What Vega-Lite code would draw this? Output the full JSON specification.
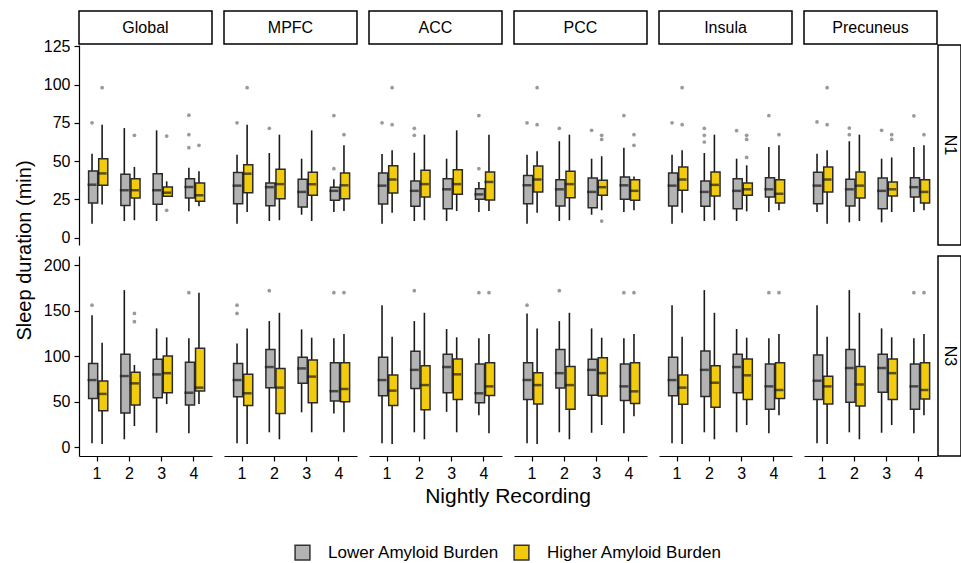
{
  "$schema": "https://vega.github.io/schema/vega-lite/v6.json",
  "padding": {"left": 14, "top": 10, "right": 0, "bottom": 0},
  "config": {
    "font": "Liberation Sans",
    "view": {"stroke": null},
    "axis": {"grid": false, "domainColor": "#000", "tickColor": "#000", "labelColor": "#000", "labelFontSize": 16, "tickSize": 5, "labelPadding": 4, "domainWidth": 1.2, "tickWidth": 1.2, "titleFontWeight": "normal", "titleFontSize": 20, "titleColor": "#000", "labelOverlap": false},
    "legend": {"labelFontSize": 17, "labelColor": "#000", "labelLimit": 400, "symbolType": "square", "symbolSize": 220, "symbolStrokeColor": "#333", "symbolStrokeWidth": 1.5, "columnPadding": 11, "labelOffset": 17}
  },
  "datasets": {
    "ytitle": [{"label": "Sleep duration (min)"}],
    "regions": [{"region": "Global"}, {"region": "MPFC"}, {"region": "ACC"}, {"region": "PCC"}, {"region": "Insula"}, {"region": "Precuneus"}],
    "s1": [{"stage": "N1"}],
    "s3": [{"stage": "N3"}],
    "d": [
      {"stage":"N1","region":"Global","night":1,"group":"Lower Amyloid Burden","lower":9.1,"q1":22.7,"median":34.6,"q3":43.6,"upper":54.9},
      {"stage":"N1","region":"Global","night":1,"group":"Higher Amyloid Burden","lower":21.6,"q1":34.2,"median":42,"q3":51.6,"upper":73.8},
      {"stage":"N1","region":"Global","night":2,"group":"Lower Amyloid Burden","lower":10.9,"q1":21.1,"median":31,"q3":41.4,"upper":71.6},
      {"stage":"N1","region":"Global","night":2,"group":"Higher Amyloid Burden","lower":11.4,"q1":25.9,"median":31,"q3":38.5,"upper":46.2},
      {"stage":"N1","region":"Global","night":3,"group":"Lower Amyloid Burden","lower":10.9,"q1":21.8,"median":31,"q3":41.8,"upper":70.1},
      {"stage":"N1","region":"Global","night":3,"group":"Higher Amyloid Burden","lower":27,"q1":27,"median":29.4,"q3":33.1,"upper":36.8},
      {"stage":"N1","region":"Global","night":4,"group":"Lower Amyloid Burden","lower":17.2,"q1":25.9,"median":33.1,"q3":38.5,"upper":45.7},
      {"stage":"N1","region":"Global","night":4,"group":"Higher Amyloid Burden","lower":20.5,"q1":23.8,"median":27.7,"q3":35.7,"upper":43.4},
      {"stage":"N1","region":"MPFC","night":1,"group":"Lower Amyloid Burden","lower":9.1,"q1":22.2,"median":34,"q3":42.5,"upper":54.2},
      {"stage":"N1","region":"MPFC","night":1,"group":"Higher Amyloid Burden","lower":16.8,"q1":29.4,"median":41.8,"q3":47.7,"upper":73.8},
      {"stage":"N1","region":"MPFC","night":2,"group":"Lower Amyloid Burden","lower":10.9,"q1":20.9,"median":33,"q3":35.7,"upper":55.3},
      {"stage":"N1","region":"MPFC","night":2,"group":"Higher Amyloid Burden","lower":11.4,"q1":25.5,"median":35,"q3":44.7,"upper":67.3},
      {"stage":"N1","region":"MPFC","night":3,"group":"Lower Amyloid Burden","lower":15,"q1":20,"median":29.9,"q3":38.1,"upper":51.6},
      {"stage":"N1","region":"MPFC","night":3,"group":"Higher Amyloid Burden","lower":10.9,"q1":27.7,"median":34.9,"q3":42.7,"upper":70.1},
      {"stage":"N1","region":"MPFC","night":4,"group":"Lower Amyloid Burden","lower":16.8,"q1":24.4,"median":30.6,"q3":32.9,"upper":38.1},
      {"stage":"N1","region":"MPFC","night":4,"group":"Higher Amyloid Burden","lower":17.4,"q1":25.5,"median":34.2,"q3":42.3,"upper":60.3},
      {"stage":"N1","region":"ACC","night":1,"group":"Lower Amyloid Burden","lower":9.1,"q1":22,"median":34,"q3":42.3,"upper":54.7},
      {"stage":"N1","region":"ACC","night":1,"group":"Higher Amyloid Burden","lower":16.3,"q1":29.2,"median":38,"q3":47,"upper":57.1},
      {"stage":"N1","region":"ACC","night":2,"group":"Lower Amyloid Burden","lower":10.9,"q1":20.5,"median":30.6,"q3":37,"upper":55.5},
      {"stage":"N1","region":"ACC","night":2,"group":"Higher Amyloid Burden","lower":11.4,"q1":26.6,"median":35,"q3":44,"upper":67.3},
      {"stage":"N1","region":"ACC","night":3,"group":"Lower Amyloid Burden","lower":10.9,"q1":18.9,"median":31.6,"q3":38.5,"upper":51.6},
      {"stage":"N1","region":"ACC","night":3,"group":"Higher Amyloid Burden","lower":17.4,"q1":28.3,"median":35,"q3":44.4,"upper":70.1},
      {"stage":"N1","region":"ACC","night":4,"group":"Lower Amyloid Burden","lower":16.8,"q1":25.1,"median":28.3,"q3":32,"upper":36.4},
      {"stage":"N1","region":"ACC","night":4,"group":"Higher Amyloid Burden","lower":17.4,"q1":24.6,"median":36.4,"q3":42.9,"upper":67.3},
      {"stage":"N1","region":"PCC","night":1,"group":"Lower Amyloid Burden","lower":9.1,"q1":22.2,"median":34.2,"q3":40.7,"upper":54.2},
      {"stage":"N1","region":"PCC","night":1,"group":"Higher Amyloid Burden","lower":16.3,"q1":29.9,"median":38,"q3":46.8,"upper":56.4},
      {"stage":"N1","region":"PCC","night":2,"group":"Lower Amyloid Burden","lower":10.9,"q1":20.7,"median":31.6,"q3":37.9,"upper":63},
      {"stage":"N1","region":"PCC","night":2,"group":"Higher Amyloid Burden","lower":11.4,"q1":26.1,"median":35,"q3":43.4,"upper":67.3},
      {"stage":"N1","region":"PCC","night":3,"group":"Lower Amyloid Burden","lower":15,"q1":19.6,"median":29.9,"q3":39,"upper":51.6},
      {"stage":"N1","region":"PCC","night":3,"group":"Higher Amyloid Burden","lower":17.9,"q1":27.7,"median":33,"q3":37.5,"upper":53.2},
      {"stage":"N1","region":"PCC","night":4,"group":"Lower Amyloid Burden","lower":16.8,"q1":25.1,"median":34.2,"q3":39.6,"upper":58.8},
      {"stage":"N1","region":"PCC","night":4,"group":"Higher Amyloid Burden","lower":17.9,"q1":24.4,"median":30.6,"q3":37.9,"upper":40},
      {"stage":"N1","region":"Insula","night":1,"group":"Lower Amyloid Burden","lower":9.1,"q1":20.7,"median":34,"q3":42.3,"upper":54.2},
      {"stage":"N1","region":"Insula","night":1,"group":"Higher Amyloid Burden","lower":16.3,"q1":31,"median":38,"q3":46.2,"upper":57.1},
      {"stage":"N1","region":"Insula","night":2,"group":"Lower Amyloid Burden","lower":10.9,"q1":20.5,"median":29.9,"q3":37,"upper":55.3},
      {"stage":"N1","region":"Insula","night":2,"group":"Higher Amyloid Burden","lower":11.4,"q1":27.2,"median":34.5,"q3":42.9,"upper":67.3},
      {"stage":"N1","region":"Insula","night":3,"group":"Lower Amyloid Burden","lower":10.9,"q1":18.9,"median":30.6,"q3":38.5,"upper":51.6},
      {"stage":"N1","region":"Insula","night":3,"group":"Higher Amyloid Burden","lower":17.2,"q1":27.7,"median":31.6,"q3":35.7,"upper":47.3},
      {"stage":"N1","region":"Insula","night":4,"group":"Lower Amyloid Burden","lower":16.8,"q1":26.6,"median":31.6,"q3":39.2,"upper":59.2},
      {"stage":"N1","region":"Insula","night":4,"group":"Higher Amyloid Burden","lower":17.9,"q1":22.7,"median":28.7,"q3":37.9,"upper":60.3},
      {"stage":"N1","region":"Precuneus","night":1,"group":"Lower Amyloid Burden","lower":16.8,"q1":22.2,"median":34,"q3":42.7,"upper":54.9},
      {"stage":"N1","region":"Precuneus","night":1,"group":"Higher Amyloid Burden","lower":9.1,"q1":29.9,"median":38,"q3":46.2,"upper":57.1},
      {"stage":"N1","region":"Precuneus","night":2,"group":"Lower Amyloid Burden","lower":10,"q1":20.7,"median":31.6,"q3":38.1,"upper":63},
      {"stage":"N1","region":"Precuneus","night":2,"group":"Higher Amyloid Burden","lower":10.9,"q1":25.9,"median":34,"q3":42.9,"upper":67.3},
      {"stage":"N1","region":"Precuneus","night":3,"group":"Lower Amyloid Burden","lower":10,"q1":18.9,"median":30.6,"q3":39,"upper":51.6},
      {"stage":"N1","region":"Precuneus","night":3,"group":"Higher Amyloid Burden","lower":16.8,"q1":27.2,"median":31.6,"q3":36.4,"upper":52.4},
      {"stage":"N1","region":"Precuneus","night":4,"group":"Lower Amyloid Burden","lower":16.8,"q1":26.6,"median":33,"q3":39.2,"upper":59.2},
      {"stage":"N1","region":"Precuneus","night":4,"group":"Higher Amyloid Burden","lower":17.9,"q1":22.7,"median":29.9,"q3":37.9,"upper":60.3},

      {"stage":"N3","region":"Global","night":1,"group":"Lower Amyloid Burden","lower":4.4,"q1":53.7,"median":73.8,"q3":92.1,"upper":145},
      {"stage":"N3","region":"Global","night":1,"group":"Higher Amyloid Burden","lower":3.7,"q1":40.1,"median":58.6,"q3":72.7,"upper":114.7},
      {"stage":"N3","region":"Global","night":2,"group":"Lower Amyloid Burden","lower":8.8,"q1":37.6,"median":78.2,"q3":102,"upper":172.5},
      {"stage":"N3","region":"Global","night":2,"group":"Higher Amyloid Burden","lower":23.4,"q1":46.5,"median":70.2,"q3":82.3,"upper":90.3},
      {"stage":"N3","region":"Global","night":3,"group":"Lower Amyloid Burden","lower":16,"q1":54.5,"median":80,"q3":96.6,"upper":130.5},
      {"stage":"N3","region":"Global","night":3,"group":"Higher Amyloid Burden","lower":47.5,"q1":59.9,"median":81.4,"q3":100.1,"upper":120.7},
      {"stage":"N3","region":"Global","night":4,"group":"Lower Amyloid Burden","lower":15.4,"q1":46.4,"median":59.9,"q3":93.3,"upper":119.6},
      {"stage":"N3","region":"Global","night":4,"group":"Higher Amyloid Burden","lower":47.5,"q1":61.7,"median":65.5,"q3":108.6,"upper":169.6},
      {"stage":"N3","region":"MPFC","night":1,"group":"Lower Amyloid Burden","lower":4.4,"q1":55.5,"median":73.8,"q3":92.1,"upper":114},
      {"stage":"N3","region":"MPFC","night":1,"group":"Higher Amyloid Burden","lower":3.7,"q1":46,"median":59.3,"q3":80.1,"upper":130.5},
      {"stage":"N3","region":"MPFC","night":2,"group":"Lower Amyloid Burden","lower":16.5,"q1":65.5,"median":88.1,"q3":107.4,"upper":138.5},
      {"stage":"N3","region":"MPFC","night":2,"group":"Higher Amyloid Burden","lower":8.8,"q1":37.1,"median":65.5,"q3":86.6,"upper":147.6},
      {"stage":"N3","region":"MPFC","night":3,"group":"Lower Amyloid Burden","lower":38.4,"q1":70.2,"median":86.6,"q3":98.7,"upper":129.4},
      {"stage":"N3","region":"MPFC","night":3,"group":"Higher Amyloid Burden","lower":16.5,"q1":48.9,"median":77.6,"q3":95.8,"upper":120.3},
      {"stage":"N3","region":"MPFC","night":4,"group":"Lower Amyloid Burden","lower":37.1,"q1":50.7,"median":61.6,"q3":92.8,"upper":119.6},
      {"stage":"N3","region":"MPFC","night":4,"group":"Higher Amyloid Burden","lower":16.5,"q1":49.9,"median":64,"q3":92.8,"upper":124.3},
      {"stage":"N3","region":"ACC","night":1,"group":"Lower Amyloid Burden","lower":4.4,"q1":56.6,"median":73.8,"q3":98.7,"upper":156},
      {"stage":"N3","region":"ACC","night":1,"group":"Higher Amyloid Burden","lower":3.7,"q1":46,"median":62.2,"q3":79.4,"upper":121.4},
      {"stage":"N3","region":"ACC","night":2,"group":"Lower Amyloid Burden","lower":16.5,"q1":64.5,"median":85,"q3":105.5,"upper":138.5},
      {"stage":"N3","region":"ACC","night":2,"group":"Higher Amyloid Burden","lower":8.8,"q1":41.2,"median":68.3,"q3":89.6,"upper":147.6},
      {"stage":"N3","region":"ACC","night":3,"group":"Lower Amyloid Burden","lower":38.9,"q1":59.9,"median":88.1,"q3":102,"upper":129.8},
      {"stage":"N3","region":"ACC","night":3,"group":"Higher Amyloid Burden","lower":16.5,"q1":52.6,"median":80.1,"q3":97,"upper":120.7},
      {"stage":"N3","region":"ACC","night":4,"group":"Lower Amyloid Burden","lower":35.3,"q1":48.9,"median":59.3,"q3":91.3,"upper":119.6},
      {"stage":"N3","region":"ACC","night":4,"group":"Higher Amyloid Burden","lower":15.4,"q1":56.8,"median":66.9,"q3":92.8,"upper":124.3},
      {"stage":"N3","region":"PCC","night":1,"group":"Lower Amyloid Burden","lower":4.4,"q1":52.6,"median":73.8,"q3":92.8,"upper":146.9},
      {"stage":"N3","region":"PCC","night":1,"group":"Higher Amyloid Burden","lower":3.7,"q1":47.5,"median":68.3,"q3":81.8,"upper":130.5},
      {"stage":"N3","region":"PCC","night":2,"group":"Lower Amyloid Burden","lower":16.5,"q1":65.1,"median":81.4,"q3":107.4,"upper":138.5},
      {"stage":"N3","region":"PCC","night":2,"group":"Higher Amyloid Burden","lower":8.8,"q1":41.9,"median":68.3,"q3":88.8,"upper":147.6},
      {"stage":"N3","region":"PCC","night":3,"group":"Lower Amyloid Burden","lower":16,"q1":57.1,"median":85,"q3":96.6,"upper":130.5},
      {"stage":"N3","region":"PCC","night":3,"group":"Higher Amyloid Burden","lower":24.5,"q1":56.2,"median":81.4,"q3":98.3,"upper":120.3},
      {"stage":"N3","region":"PCC","night":4,"group":"Lower Amyloid Burden","lower":15.4,"q1":51.5,"median":66.9,"q3":91.3,"upper":119.6},
      {"stage":"N3","region":"PCC","night":4,"group":"Higher Amyloid Burden","lower":34.2,"q1":48.2,"median":61.4,"q3":92.8,"upper":124.3},
      {"stage":"N3","region":"Insula","night":1,"group":"Lower Amyloid Burden","lower":4.4,"q1":56.6,"median":73.8,"q3":98.7,"upper":156},
      {"stage":"N3","region":"Insula","night":1,"group":"Higher Amyloid Burden","lower":3.7,"q1":47.2,"median":65.5,"q3":79.4,"upper":121.4},
      {"stage":"N3","region":"Insula","night":2,"group":"Lower Amyloid Burden","lower":16.5,"q1":55.8,"median":85,"q3":105.8,"upper":172.5},
      {"stage":"N3","region":"Insula","night":2,"group":"Higher Amyloid Burden","lower":8.8,"q1":44.1,"median":70.9,"q3":89.6,"upper":147.6},
      {"stage":"N3","region":"Insula","night":3,"group":"Lower Amyloid Burden","lower":16.5,"q1":59.9,"median":88.1,"q3":102,"upper":129.8},
      {"stage":"N3","region":"Insula","night":3,"group":"Higher Amyloid Burden","lower":24.5,"q1":52.6,"median":79,"q3":97,"upper":120.3},
      {"stage":"N3","region":"Insula","night":4,"group":"Lower Amyloid Burden","lower":15.4,"q1":41.9,"median":66.9,"q3":91.3,"upper":119.6},
      {"stage":"N3","region":"Insula","night":4,"group":"Higher Amyloid Burden","lower":35.3,"q1":53.5,"median":62.9,"q3":92.8,"upper":124.3},
      {"stage":"N3","region":"Precuneus","night":1,"group":"Lower Amyloid Burden","lower":4.4,"q1":52.6,"median":73.1,"q3":101.3,"upper":156},
      {"stage":"N3","region":"Precuneus","night":1,"group":"Higher Amyloid Burden","lower":3.7,"q1":47.5,"median":66.9,"q3":78.1,"upper":121.4},
      {"stage":"N3","region":"Precuneus","night":2,"group":"Lower Amyloid Burden","lower":16.5,"q1":49.6,"median":87,"q3":107.4,"upper":172.5},
      {"stage":"N3","region":"Precuneus","night":2,"group":"Higher Amyloid Burden","lower":8.8,"q1":45.4,"median":69,"q3":88.8,"upper":147.6},
      {"stage":"N3","region":"Precuneus","night":3,"group":"Lower Amyloid Burden","lower":16,"q1":60.3,"median":87,"q3":102,"upper":130.5},
      {"stage":"N3","region":"Precuneus","night":3,"group":"Higher Amyloid Burden","lower":24.5,"q1":52.6,"median":81.4,"q3":97,"upper":120.7},
      {"stage":"N3","region":"Precuneus","night":4,"group":"Lower Amyloid Burden","lower":15.4,"q1":41.9,"median":66.9,"q3":91.3,"upper":119.6},
      {"stage":"N3","region":"Precuneus","night":4,"group":"Higher Amyloid Burden","lower":35.3,"q1":53.1,"median":62.9,"q3":92.8,"upper":124.3},

      {"stage":"N1","region":"Global","night":1,"group":"Lower Amyloid Burden","value":75},
      {"stage":"N1","region":"Global","night":1,"group":"Higher Amyloid Burden","value":98},
      {"stage":"N1","region":"Global","night":2,"group":"Higher Amyloid Burden","value":66.9},
      {"stage":"N1","region":"Global","night":3,"group":"Higher Amyloid Burden","value":17.9},
      {"stage":"N1","region":"Global","night":3,"group":"Higher Amyloid Burden","value":66.4},
      {"stage":"N1","region":"Global","night":4,"group":"Lower Amyloid Burden","value":80},
      {"stage":"N1","region":"Global","night":4,"group":"Lower Amyloid Burden","value":67.3},
      {"stage":"N1","region":"Global","night":4,"group":"Lower Amyloid Burden","value":58.8},
      {"stage":"N1","region":"Global","night":4,"group":"Higher Amyloid Burden","value":60.3},
      {"stage":"N1","region":"MPFC","night":1,"group":"Lower Amyloid Burden","value":75},
      {"stage":"N1","region":"MPFC","night":1,"group":"Higher Amyloid Burden","value":98},
      {"stage":"N1","region":"MPFC","night":2,"group":"Lower Amyloid Burden","value":71.4},
      {"stage":"N1","region":"MPFC","night":4,"group":"Lower Amyloid Burden","value":79.8},
      {"stage":"N1","region":"MPFC","night":4,"group":"Lower Amyloid Burden","value":45.1},
      {"stage":"N1","region":"MPFC","night":4,"group":"Higher Amyloid Burden","value":67.3},
      {"stage":"N1","region":"ACC","night":1,"group":"Lower Amyloid Burden","value":75},
      {"stage":"N1","region":"ACC","night":1,"group":"Higher Amyloid Burden","value":73.8},
      {"stage":"N1","region":"ACC","night":1,"group":"Higher Amyloid Burden","value":98},
      {"stage":"N1","region":"ACC","night":2,"group":"Lower Amyloid Burden","value":71.4},
      {"stage":"N1","region":"ACC","night":2,"group":"Lower Amyloid Burden","value":66.9},
      {"stage":"N1","region":"ACC","night":4,"group":"Lower Amyloid Burden","value":79.8},
      {"stage":"N1","region":"ACC","night":4,"group":"Lower Amyloid Burden","value":45.1},
      {"stage":"N1","region":"PCC","night":1,"group":"Lower Amyloid Burden","value":75},
      {"stage":"N1","region":"PCC","night":1,"group":"Higher Amyloid Burden","value":73.8},
      {"stage":"N1","region":"PCC","night":1,"group":"Higher Amyloid Burden","value":98},
      {"stage":"N1","region":"PCC","night":2,"group":"Lower Amyloid Burden","value":71.4},
      {"stage":"N1","region":"PCC","night":3,"group":"Lower Amyloid Burden","value":70.1},
      {"stage":"N1","region":"PCC","night":3,"group":"Higher Amyloid Burden","value":66.9},
      {"stage":"N1","region":"PCC","night":3,"group":"Higher Amyloid Burden","value":64.2},
      {"stage":"N1","region":"PCC","night":3,"group":"Higher Amyloid Burden","value":10.9},
      {"stage":"N1","region":"PCC","night":4,"group":"Lower Amyloid Burden","value":79.8},
      {"stage":"N1","region":"PCC","night":4,"group":"Higher Amyloid Burden","value":67.3},
      {"stage":"N1","region":"PCC","night":4,"group":"Higher Amyloid Burden","value":60.3},
      {"stage":"N1","region":"Insula","night":1,"group":"Lower Amyloid Burden","value":75},
      {"stage":"N1","region":"Insula","night":1,"group":"Higher Amyloid Burden","value":73.8},
      {"stage":"N1","region":"Insula","night":1,"group":"Higher Amyloid Burden","value":98},
      {"stage":"N1","region":"Insula","night":2,"group":"Lower Amyloid Burden","value":71.4},
      {"stage":"N1","region":"Insula","night":2,"group":"Lower Amyloid Burden","value":66.9},
      {"stage":"N1","region":"Insula","night":2,"group":"Lower Amyloid Burden","value":62.5},
      {"stage":"N1","region":"Insula","night":3,"group":"Lower Amyloid Burden","value":69.9},
      {"stage":"N1","region":"Insula","night":3,"group":"Higher Amyloid Burden","value":66.9},
      {"stage":"N1","region":"Insula","night":3,"group":"Higher Amyloid Burden","value":64.2},
      {"stage":"N1","region":"Insula","night":3,"group":"Higher Amyloid Burden","value":52.4},
      {"stage":"N1","region":"Insula","night":4,"group":"Lower Amyloid Burden","value":79.8},
      {"stage":"N1","region":"Insula","night":4,"group":"Higher Amyloid Burden","value":67.3},
      {"stage":"N1","region":"Precuneus","night":1,"group":"Lower Amyloid Burden","value":75.6},
      {"stage":"N1","region":"Precuneus","night":1,"group":"Higher Amyloid Burden","value":73.8},
      {"stage":"N1","region":"Precuneus","night":1,"group":"Higher Amyloid Burden","value":98},
      {"stage":"N1","region":"Precuneus","night":2,"group":"Lower Amyloid Burden","value":71.6},
      {"stage":"N1","region":"Precuneus","night":2,"group":"Lower Amyloid Burden","value":67.3},
      {"stage":"N1","region":"Precuneus","night":3,"group":"Lower Amyloid Burden","value":70.1},
      {"stage":"N1","region":"Precuneus","night":3,"group":"Higher Amyloid Burden","value":67.3},
      {"stage":"N1","region":"Precuneus","night":3,"group":"Higher Amyloid Burden","value":64.2},
      {"stage":"N1","region":"Precuneus","night":4,"group":"Lower Amyloid Burden","value":79.6},
      {"stage":"N1","region":"Precuneus","night":4,"group":"Higher Amyloid Burden","value":67.3},

      {"stage":"N3","region":"Global","night":1,"group":"Lower Amyloid Burden","value":156},
      {"stage":"N3","region":"Global","night":2,"group":"Higher Amyloid Burden","value":146.9},
      {"stage":"N3","region":"Global","night":2,"group":"Higher Amyloid Burden","value":137.8},
      {"stage":"N3","region":"Global","night":4,"group":"Lower Amyloid Burden","value":169.6},
      {"stage":"N3","region":"MPFC","night":1,"group":"Lower Amyloid Burden","value":156},
      {"stage":"N3","region":"MPFC","night":1,"group":"Lower Amyloid Burden","value":146.9},
      {"stage":"N3","region":"MPFC","night":2,"group":"Lower Amyloid Burden","value":171.8},
      {"stage":"N3","region":"MPFC","night":4,"group":"Lower Amyloid Burden","value":169.6},
      {"stage":"N3","region":"MPFC","night":4,"group":"Higher Amyloid Burden","value":169.6},
      {"stage":"N3","region":"ACC","night":2,"group":"Lower Amyloid Burden","value":171.8},
      {"stage":"N3","region":"ACC","night":4,"group":"Lower Amyloid Burden","value":169.6},
      {"stage":"N3","region":"ACC","night":4,"group":"Higher Amyloid Burden","value":169.6},
      {"stage":"N3","region":"PCC","night":1,"group":"Lower Amyloid Burden","value":156},
      {"stage":"N3","region":"PCC","night":2,"group":"Lower Amyloid Burden","value":171.8},
      {"stage":"N3","region":"PCC","night":4,"group":"Lower Amyloid Burden","value":169.6},
      {"stage":"N3","region":"PCC","night":4,"group":"Higher Amyloid Burden","value":169.6},
      {"stage":"N3","region":"Insula","night":4,"group":"Lower Amyloid Burden","value":169.6},
      {"stage":"N3","region":"Insula","night":4,"group":"Higher Amyloid Burden","value":169.6},
      {"stage":"N3","region":"Precuneus","night":4,"group":"Lower Amyloid Burden","value":169.6},
      {"stage":"N3","region":"Precuneus","night":4,"group":"Higher Amyloid Burden","value":169.6}
    ]
  },
  "spacing": 7,
  "hconcat": [
    {
      "data": {"name": "ytitle"},
      "width": 20,
      "height": 479,
      "mark": {"type": "text", "angle": 270, "fontSize": 20, "color": "#000"},
      "encoding": {"text": {"field": "label"}}
    },
    {
      "spacing": 9,
      "vconcat": [
        {
          "spacing": -7,
          "vconcat": [
            {
              "data": {"name": "regions"},
              "width": 858,
              "height": 33,
              "encoding": {
                "x": {"field": "region", "type": "nominal", "sort": ["Global", "MPFC", "ACC", "PCC", "Insula", "Precuneus"], "scale": {"paddingInner": 0.0828, "paddingOuter": 0}, "axis": null}
              },
              "layer": [
                {"mark": {"type": "rect", "fill": "white", "stroke": "#000", "strokeWidth": 1.5}},
                {"mark": {"type": "text", "fontSize": 16, "color": "#000"}, "encoding": {"text": {"field": "region"}}}
              ]
            },
            {
              "spacing": 0,
              "hconcat": [
                {
                  "data": {"name": "d"},
                  "transform": [{"filter": "datum.stage == 'N1'"}],
                  "facet": {"column": {"field": "region", "type": "nominal", "sort": ["Global", "MPFC", "ACC", "PCC", "Insula", "Precuneus"], "header": {"labels": false, "title": null}}},
                  "spacing": 12,
                  "spec": {
                    "width": 133,
                    "height": 200,
                    "encoding": {
                      "x": {"field": "night", "type": "ordinal", "scale": {"type": "band", "domain": [1, 2, 3, 4], "paddingInner": 0, "paddingOuter": 0.06}, "axis": null},
                      "xOffset": {"field": "group", "type": "nominal", "scale": {"domain": ["Lower Amyloid Burden", "Higher Amyloid Burden"], "paddingInner": 0, "paddingOuter": 0.6}}
                    },
                    "layer": [
                      {
                        "transform": [{"filter": "isValid(datum.median)"}],
                        "mark": {"type": "rule", "color": "#1a1a1a", "strokeWidth": 1.6},
                        "encoding": {
                          "y": {"field": "lower", "type": "quantitative", "scale": {"domain": [-4.77, 125.85], "nice": false, "zero": false}, "axis": {"values": [0, 25, 50, 75, 100, 125], "title": null}},
                          "y2": {"field": "upper"}
                        }
                      },
                      {
                        "transform": [{"filter": "isValid(datum.median)"}],
                        "mark": {"type": "bar", "stroke": "#2b2b2b", "strokeWidth": 1.5, "width": {"band": 0.9}},
                        "encoding": {
                          "y": {"field": "q1", "type": "quantitative", "axis": {"values": [0, 25, 50, 75, 100, 125], "title": null}},
                          "y2": {"field": "q3"},
                          "fill": {"field": "group", "type": "nominal", "scale": {"domain": ["Lower Amyloid Burden", "Higher Amyloid Burden"], "range": ["#b3b3b3", "#f2cc0c"]}, "legend": {"title": null, "orient": "none", "direction": "horizontal", "legendX": 279, "legendY": 533}}
                        }
                      },
                      {
                        "transform": [{"filter": "isValid(datum.median)"}],
                        "mark": {"type": "tick", "color": "#1a1a1a", "thickness": 2.5, "size": 9},
                        "encoding": {"y": {"field": "median", "type": "quantitative", "axis": {"values": [0, 25, 50, 75, 100, 125], "title": null}}}
                      },
                      {
                        "transform": [{"filter": "isValid(datum.value)"}],
                        "mark": {"type": "circle", "color": "#9a9a9a", "size": 14, "opacity": 1},
                        "encoding": {"y": {"field": "value", "type": "quantitative", "axis": {"values": [0, 25, 50, 75, 100, 125], "title": null}}}
                      }
                    ]
                  }
                },
                {
                  "data": {"name": "s1"},
                  "width": 23,
                  "height": 200,
                  "encoding": {"y": {"field": "stage", "type": "nominal", "scale": {"paddingInner": 0, "paddingOuter": 0}, "axis": null}},
                  "layer": [
                    {"mark": {"type": "rect", "fill": "white", "stroke": "#000", "strokeWidth": 1.5}},
                    {"mark": {"type": "text", "fontSize": 16, "color": "#000", "angle": 90}, "encoding": {"text": {"field": "stage"}}}
                  ]
                }
              ]
            }
          ]
        },
        {
          "spacing": 0,
          "hconcat": [
            {
              "data": {"name": "d"},
              "transform": [{"filter": "datum.stage == 'N3'"}],
              "facet": {"column": {"field": "region", "type": "nominal", "sort": ["Global", "MPFC", "ACC", "PCC", "Insula", "Precuneus"], "header": {"labels": false, "title": "Nightly Recording", "titleOrient": "bottom", "titleFontSize": 21, "titleFontWeight": "normal", "titleColor": "#000", "titlePadding": -5}}},
              "spacing": 12,
              "spec": {
                "width": 133,
                "height": 200,
                "encoding": {
                  "x": {"field": "night", "type": "ordinal", "scale": {"type": "band", "domain": [1, 2, 3, 4], "paddingInner": 0, "paddingOuter": 0.06}, "axis": {"title": null, "labelAngle": 0}},
                  "xOffset": {"field": "group", "type": "nominal", "scale": {"domain": ["Lower Amyloid Burden", "Higher Amyloid Burden"], "paddingInner": 0, "paddingOuter": 0.6}}
                },
                "layer": [
                  {
                    "transform": [{"filter": "isValid(datum.median)"}],
                    "mark": {"type": "rule", "color": "#1a1a1a", "strokeWidth": 1.6},
                    "encoding": {
                      "y": {"field": "lower", "type": "quantitative", "scale": {"domain": [-9.5, 209.9], "nice": false, "zero": false}, "axis": {"values": [0, 50, 100, 150, 200], "title": null}},
                      "y2": {"field": "upper"}
                    }
                  },
                  {
                    "transform": [{"filter": "isValid(datum.median)"}],
                    "mark": {"type": "bar", "stroke": "#2b2b2b", "strokeWidth": 1.5, "width": {"band": 0.9}},
                    "encoding": {
                      "y": {"field": "q1", "type": "quantitative", "axis": {"values": [0, 50, 100, 150, 200], "title": null}},
                      "y2": {"field": "q3"},
                      "fill": {"field": "group", "type": "nominal", "scale": {"domain": ["Lower Amyloid Burden", "Higher Amyloid Burden"], "range": ["#b3b3b3", "#f2cc0c"]}, "legend": {"title": null, "orient": "none", "direction": "horizontal", "legendX": 279, "legendY": 533}}
                    }
                  },
                  {
                    "transform": [{"filter": "isValid(datum.median)"}],
                    "mark": {"type": "tick", "color": "#1a1a1a", "thickness": 2.5, "size": 9},
                    "encoding": {"y": {"field": "median", "type": "quantitative", "axis": {"values": [0, 50, 100, 150, 200], "title": null}}}
                  },
                  {
                    "transform": [{"filter": "isValid(datum.value)"}],
                    "mark": {"type": "circle", "color": "#9a9a9a", "size": 14, "opacity": 1},
                    "encoding": {"y": {"field": "value", "type": "quantitative", "axis": {"values": [0, 50, 100, 150, 200], "title": null}}}
                  }
                ]
              }
            },
            {
              "data": {"name": "s3"},
              "width": 23,
              "height": 200,
              "encoding": {"y": {"field": "stage", "type": "nominal", "scale": {"paddingInner": 0, "paddingOuter": 0}, "axis": null}},
              "layer": [
                {"mark": {"type": "rect", "fill": "white", "stroke": "#000", "strokeWidth": 1.5}},
                {"mark": {"type": "text", "fontSize": 16, "color": "#000", "angle": 90}, "encoding": {"text": {"field": "stage"}}}
              ]
            }
          ]
        }
      ]
    }
  ]
}
